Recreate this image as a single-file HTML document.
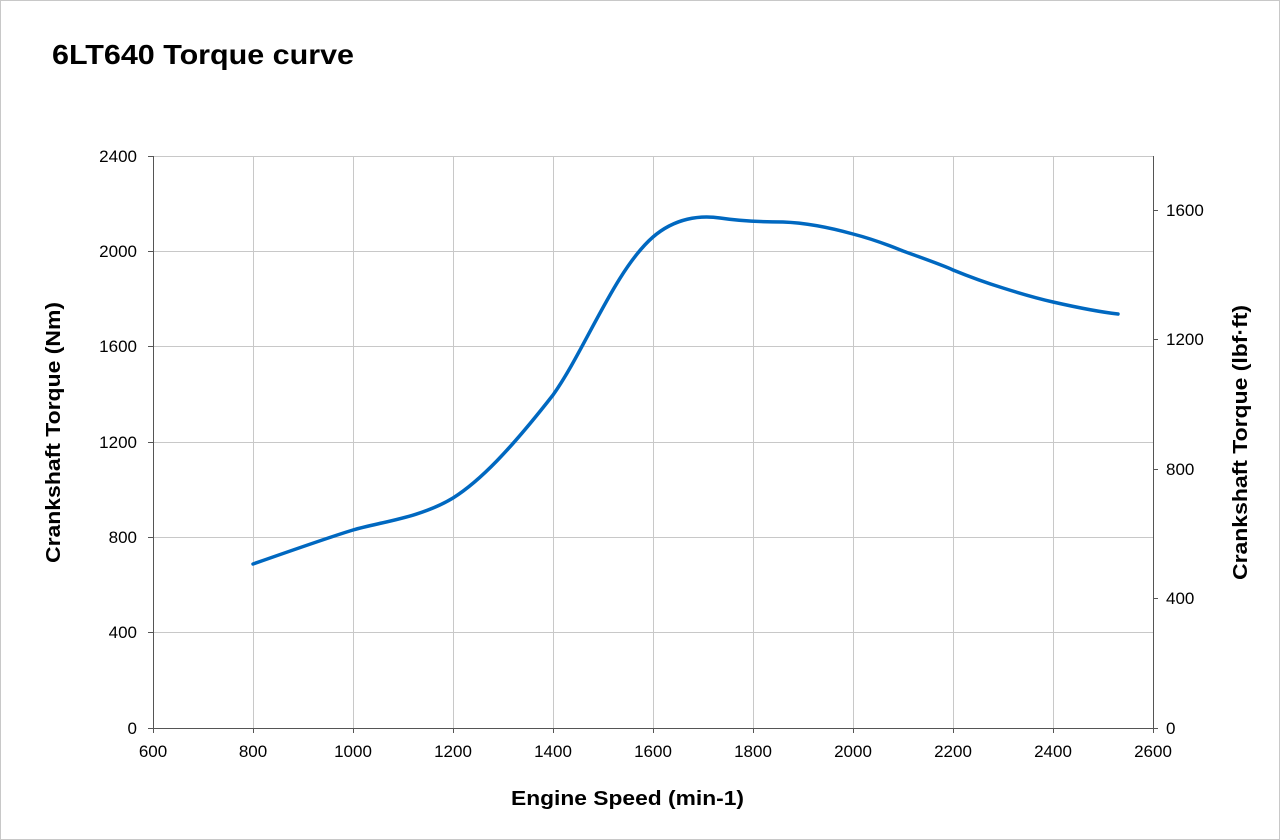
<!DOCTYPE html>
<html><head><meta charset="utf-8"><style>
html,body{margin:0;padding:0;background:#fff;}
svg{display:block;}
text{font-family:"Liberation Sans",Arial,sans-serif;fill:#000;}
</style></head><body>
<svg width="1280" height="840" viewBox="0 0 1280 840">
<rect x="0.5" y="0.5" width="1279" height="839" fill="#fff" stroke="#c8c8c8"/>
<text x="52" y="64" font-size="28" font-weight="bold" textLength="302" lengthAdjust="spacingAndGlyphs">6LT640 Torque curve</text>
<g stroke="#c8c8c8" stroke-width="1">
<line x1="253.5" y1="156" x2="253.5" y2="728"/>
<line x1="353.5" y1="156" x2="353.5" y2="728"/>
<line x1="453.5" y1="156" x2="453.5" y2="728"/>
<line x1="553.5" y1="156" x2="553.5" y2="728"/>
<line x1="653.5" y1="156" x2="653.5" y2="728"/>
<line x1="753.5" y1="156" x2="753.5" y2="728"/>
<line x1="853.5" y1="156" x2="853.5" y2="728"/>
<line x1="953.5" y1="156" x2="953.5" y2="728"/>
<line x1="1053.5" y1="156" x2="1053.5" y2="728"/>
<line x1="153" y1="156.5" x2="1153" y2="156.5"/>
<line x1="153" y1="251.5" x2="1153" y2="251.5"/>
<line x1="153" y1="346.5" x2="1153" y2="346.5"/>
<line x1="153" y1="442.5" x2="1153" y2="442.5"/>
<line x1="153" y1="537.5" x2="1153" y2="537.5"/>
<line x1="153" y1="632.5" x2="1153" y2="632.5"/>
</g>
<g stroke="#555" stroke-width="1">
<line x1="153.5" y1="156" x2="153.5" y2="733"/>
<line x1="1153.5" y1="156" x2="1153.5" y2="733"/>
<line x1="148" y1="728.5" x2="1158" y2="728.5"/>
<line x1="148" y1="156.5" x2="153" y2="156.5"/>
<line x1="148" y1="251.5" x2="153" y2="251.5"/>
<line x1="148" y1="346.5" x2="153" y2="346.5"/>
<line x1="148" y1="442.5" x2="153" y2="442.5"/>
<line x1="148" y1="537.5" x2="153" y2="537.5"/>
<line x1="148" y1="632.5" x2="153" y2="632.5"/>
<line x1="1153" y1="210.5" x2="1158" y2="210.5"/>
<line x1="1153" y1="339.5" x2="1158" y2="339.5"/>
<line x1="1153" y1="469.5" x2="1158" y2="469.5"/>
<line x1="1153" y1="598.5" x2="1158" y2="598.5"/>
<line x1="253.5" y1="728" x2="253.5" y2="733"/>
<line x1="353.5" y1="728" x2="353.5" y2="733"/>
<line x1="453.5" y1="728" x2="453.5" y2="733"/>
<line x1="553.5" y1="728" x2="553.5" y2="733"/>
<line x1="653.5" y1="728" x2="653.5" y2="733"/>
<line x1="753.5" y1="728" x2="753.5" y2="733"/>
<line x1="853.5" y1="728" x2="853.5" y2="733"/>
<line x1="953.5" y1="728" x2="953.5" y2="733"/>
<line x1="1053.5" y1="728" x2="1053.5" y2="733"/>
</g>
<g font-size="17" text-anchor="end">
<text x="137" y="162">2400</text>
<text x="137" y="257">2000</text>
<text x="137" y="352">1600</text>
<text x="137" y="448">1200</text>
<text x="137" y="543">800</text>
<text x="137" y="638">400</text>
<text x="137" y="734">0</text>
</g>
<g font-size="17" text-anchor="start">
<text x="1166" y="216">1600</text>
<text x="1166" y="345">1200</text>
<text x="1166" y="475">800</text>
<text x="1166" y="604">400</text>
<text x="1166" y="734">0</text>
</g>
<g font-size="17" text-anchor="middle">
<text x="153" y="757">600</text>
<text x="253" y="757">800</text>
<text x="353" y="757">1000</text>
<text x="453" y="757">1200</text>
<text x="553" y="757">1400</text>
<text x="653" y="757">1600</text>
<text x="753" y="757">1800</text>
<text x="853" y="757">2000</text>
<text x="953" y="757">2200</text>
<text x="1053" y="757">2400</text>
<text x="1153" y="757">2600</text>
</g>
<text x="511" y="805" font-size="20" font-weight="bold" textLength="233" lengthAdjust="spacingAndGlyphs">Engine Speed (min-1)</text>
<text transform="translate(60,563) rotate(-90)" font-size="20" font-weight="bold" textLength="261" lengthAdjust="spacingAndGlyphs">Crankshaft  Torque (Nm)</text>
<text transform="translate(1247,580) rotate(-90)" font-size="20" font-weight="bold" textLength="275" lengthAdjust="spacingAndGlyphs">Crankshaft  Torque (lbf·ft)</text>
<path d="M253,564 C290,551 330,537 353,530 C380,522 420,518 453,498 C480,481 510,450 553,395 C585,350 615,270 653,237 C675,218 700,215 720,218 C740,221 760,222 783,222 C810,223 835,229 853,234 C880,241 900,250 903,251 C925,259 945,266 953,270 C975,279 990,284 1003,288 C1025,295 1040,299 1053,302 C1075,307 1100,312 1118,314" fill="none" stroke="#0068c0" stroke-width="3.5" stroke-linecap="round"/>
</svg>
</body></html>
